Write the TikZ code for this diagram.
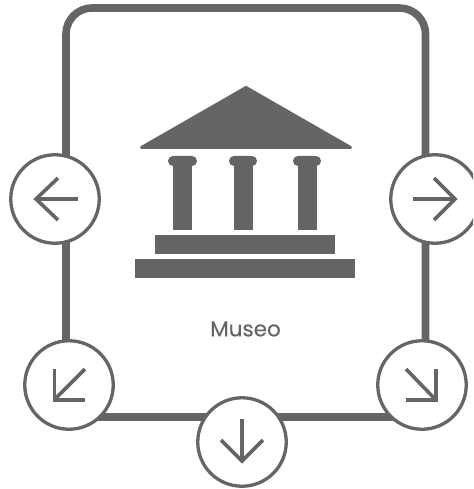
\documentclass[tikz,border=0pt]{standalone}
\usepackage{fontspec}
\setmainfont{Poppins}[FakeBold=0.35]
\usepackage{xcolor}
\definecolor{museogray}{HTML}{646567}

\begin{document}
\begin{tikzpicture}[x=1pt, y=-1pt,
    navbtn/.style={circle, draw=museogray, fill=white, line width=3.3pt, minimum size=88.5pt, inner sep=0pt},
    glyph/.style={draw=museogray, line width=3.6pt, miter limit=10}]
    \clip (0,0) rectangle (473,489);

    % Card outline
    \draw[museogray, line width=7.6pt, rounded corners=26pt] (66,8) rectangle (425.5,417);

    % Temple
    \fill[museogray, draw=museogray, line width=3pt, line join=round] (246,87.5) -- (350.5,147.5) -- (141.5,147.5) -- cycle;
    \fill[museogray, rounded corners=4.9pt] (168,156) rectangle (197,166);
    \fill[museogray, rounded corners=4.9pt] (229,156) rectangle (257,166);
    \fill[museogray, rounded corners=4.9pt] (293,156) rectangle (321,166);
    \fill[museogray] (173,162) rectangle (192,230);
    \fill[museogray] (234,162) rectangle (253,230);
    \fill[museogray] (298,162) rectangle (317,230);
    \fill[museogray] (155,235) rectangle (335,254);
    \fill[museogray] (135,259) rectangle (355,278);
    \node[text=museogray, font=\fontsize{21.5}{21.5}\selectfont] (label) at (245.5,329) {Museo};

    % Navigation buttons
    \node[navbtn] (btnW) at (55,199) {};
    \node[navbtn] (btnE) at (435,199) {};
    \node[navbtn] (btnSW) at (69,385) {};
    \node[navbtn] (btnS) at (242,442) {};
    \node[navbtn] (btnSE) at (422,385) {};

    % Arrow glyphs
    \begin{scope}[shift={(btnW)}]
        \draw[glyph] (23,0) -- (-20,0);
        \draw[glyph] (3,-21) -- (-19,0) -- (3,21);
    \end{scope}
    \begin{scope}[shift={(btnE)}]
        \draw[glyph] (-22,0) -- (20,0);
        \draw[glyph] (-1,-21) -- (20,0) -- (-1,21);
    \end{scope}
    \begin{scope}[shift={(btnSW)}]
        \draw[glyph] (16,-16) -- (-14,14);
        \draw[glyph] (-14.5,-16) -- (-14.5,15) -- (16,15);
    \end{scope}
    \begin{scope}[shift={(btnS)}]
        \draw[glyph] (0,-23) -- (0,19);
        \draw[glyph] (-21,-2) -- (0,19) -- (21,-2);
    \end{scope}
    \begin{scope}[shift={(btnSE)}]
        \draw[glyph] (-16,-16) -- (13,14);
        \draw[glyph] (14,-16) -- (14,15) -- (-16,15);
    \end{scope}
\end{tikzpicture}
\end{document}
